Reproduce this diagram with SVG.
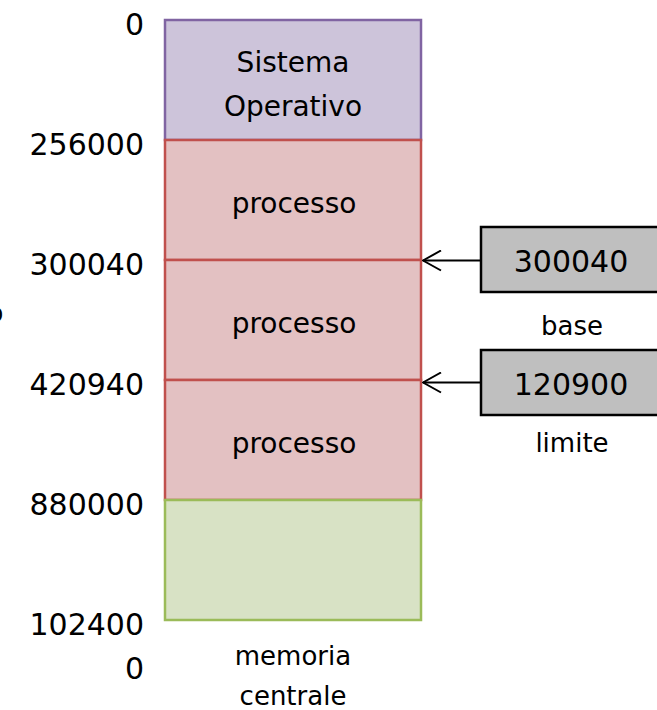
<svg xmlns="http://www.w3.org/2000/svg" width="657" height="710" viewBox="0 0 657 710">
<style>
text{font-family:"DejaVu Sans","Liberation Sans",sans-serif;fill:#000}
.num{font-size:30px;text-anchor:end}
.in{font-size:28px;text-anchor:middle}
.lbl{font-size:26px;text-anchor:middle}
.os{fill:#CDC4DA;stroke:#8064A2;stroke-width:2.5}
.pr{fill:#E3C1C2;stroke:#C0504D;stroke-width:2.5}
.fr{fill:#D8E2C5;stroke:#9BBB59;stroke-width:2.5}
.reg{fill:#BFBFBF;stroke:#000;stroke-width:2.5}
.con{stroke:#000;stroke-width:2;fill:none}
</style>
<defs>
<marker id="ah" viewBox="0 0 20 22" refX="19" refY="11" markerWidth="20" markerHeight="22" markerUnits="userSpaceOnUse" orient="auto">
<path d="M1,1 L19,11 L1,21" fill="none" stroke="#000" stroke-width="2"/>
</marker>
</defs>
<g id="frag"><text x="-12.5" y="322" style="font-size:26px">o</text></g>
<g id="addresses">
<text class="num" x="144" y="35">0</text>
<text class="num" x="144" y="155">256000</text>
<text class="num" x="144" y="275">300040</text>
<text class="num" x="144" y="395">420940</text>
<text class="num" x="144" y="515">880000</text>
<text class="num" x="144" y="635">102400</text>
<text class="num" x="144" y="679">0</text>
</g>
<g id="sistema-operativo">
<rect class="os" x="165" y="20" width="256" height="120"/>
<text class="in" x="293" y="72">Sistema</text>
<text class="in" x="293" y="116">Operativo</text>
</g>
<g id="processo1">
<rect class="pr" x="165" y="140" width="256" height="120"/>
<text class="in" x="294" y="213">processo</text>
</g>
<g id="processo2">
<rect class="pr" x="165" y="260" width="256" height="120"/>
<text class="in" x="294" y="333">processo</text>
</g>
<g id="processo3">
<rect class="pr" x="165" y="380" width="256" height="120"/>
<text class="in" x="294" y="453">processo</text>
</g>
<g id="libera">
<rect class="fr" x="165" y="500" width="256" height="120"/>
</g>
<g id="memoria-label">
<text class="lbl" x="293" y="665">memoria</text>
<text class="lbl" x="293" y="705">centrale</text>
</g>
<g id="base">
<rect class="reg" x="481" y="227" width="180" height="65"/>
<text class="num" x="571" y="272" style="text-anchor:middle">300040</text>
<text class="lbl" x="572" y="335">base</text>
</g>
<g id="limite">
<rect class="reg" x="481" y="350" width="180" height="65"/>
<text class="num" x="571" y="395" style="text-anchor:middle">120900</text>
<text class="lbl" x="572" y="452">limite</text>
</g>
<g id="connectors">
<line class="con" x1="481" y1="260.5" x2="423" y2="260.5" marker-end="url(#ah)"/>
<line class="con" x1="481" y1="382.5" x2="423" y2="382.5" marker-end="url(#ah)"/>
</g>
</svg>
